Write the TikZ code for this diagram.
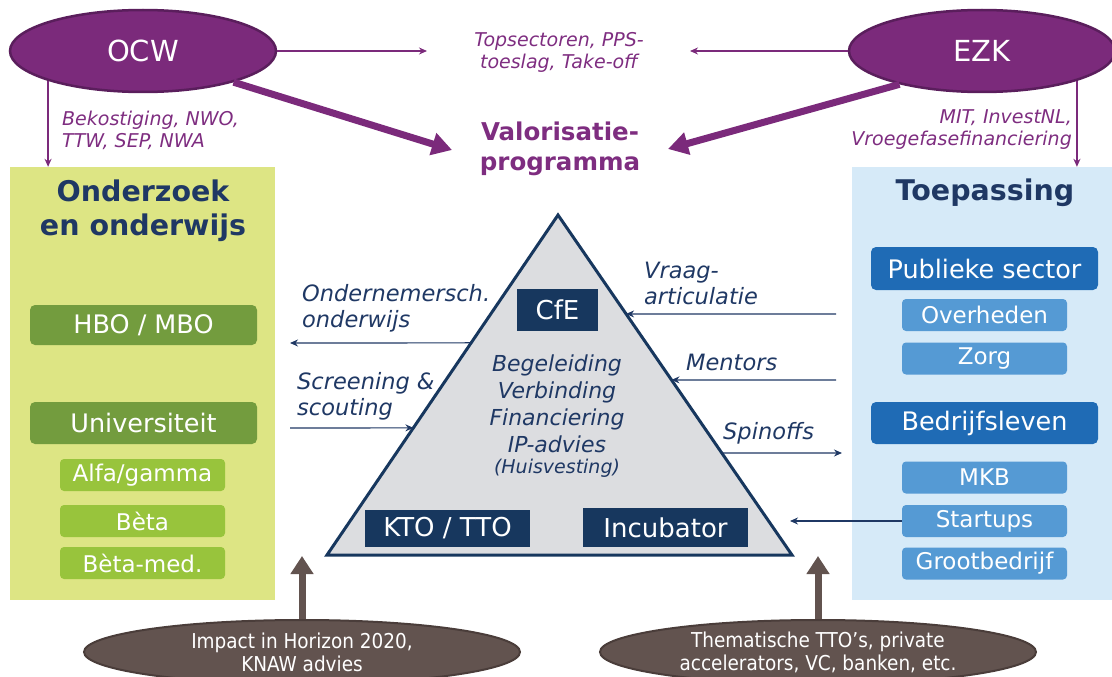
\documentclass[tikz,border=0pt]{standalone}
\usepackage{fontspec}
\setmainfont{DejaVu Sans}
\newfontfamily\condfont{DejaVu Sans Condensed}
\usetikzlibrary{arrows.meta,shapes.geometric,calc}
\definecolor{govfill}{HTML}{7B2A7B}
\definecolor{govdraw}{HTML}{5A1E5C}
\definecolor{purptext}{HTML}{7E2D80}
\definecolor{navy}{HTML}{17375E}
\definecolor{navytext}{HTML}{1F3864}
\definecolor{lpfill}{HTML}{DDE584}
\definecolor{dgreen}{HTML}{739C3E}
\definecolor{lgreen}{HTML}{98C43C}
\definecolor{rpfill}{HTML}{D6EAF8}
\definecolor{dblue}{HTML}{1F6BB5}
\definecolor{mblue}{HTML}{559AD4}
\definecolor{trifill}{HTML}{DCDDE0}
\definecolor{brownfill}{HTML}{62534F}
\definecolor{browndraw}{HTML}{4A3D3A}
\tikzset{
  govt/.style={ellipse, draw=govdraw, line width=2.5pt, fill=govfill, text=white,
    minimum width=266pt, minimum height=82pt, inner sep=0pt, font=\fontsize{29}{34}\selectfont},
  thinp/.style={draw=govfill, line width=1.3pt, -{Stealth[length=8pt,width=7pt]}},
  thickp/.style={draw=govfill, line width=7pt, -{Triangle[length=20pt,width=22pt]}},
  plabel/.style={text=purptext, font=\fontsize{19}{22}\selectfont\itshape, inner sep=0pt},
  panel/.style={draw=none, inner sep=0pt},
  ptitle/.style={text=navytext, font=\fontsize{28.5}{34}\selectfont\bfseries, align=center, inner sep=0pt},
  bigbox/.style={rounded corners=5pt, text=white, minimum width=227pt, inner sep=0pt,
    font=\fontsize{25.5}{28}\selectfont},
  smallbox/.style={rounded corners=4pt, text=white, minimum width=165pt, minimum height=32pt, inner sep=0pt,
    font=\fontsize{23}{26}\selectfont},
  navybox/.style={fill=navy, text=white, inner sep=0pt, font=\fontsize{26}{29}\selectfont},
  nlabel/.style={text=navytext, font=\fontsize{22.5}{26}\selectfont\itshape, inner sep=0pt, align=left},
  thinn/.style={draw=navytext, line width=1.2pt, -{Stealth[length=8pt,width=7pt]}},
  brarrow/.style={draw=brownfill, line width=7pt, -{Triangle[length=18pt,width=22pt]}},
  brell/.style={ellipse, draw=browndraw, line width=2pt, fill=brownfill, text=white,
    minimum width=436pt, minimum height=64pt, inner sep=0pt, align=center,
    font=\condfont\fontsize{20.5}{23}\selectfont},
}
\begin{document}
\begin{tikzpicture}[x=1pt,y=-1pt]
\useasboundingbox (0,0) rectangle (1112,677);
% panels
\node[panel, fill=lpfill, minimum width=265pt, minimum height=433pt] (lp) at (142.5,383.5) {};
\node[panel, fill=rpfill, minimum width=260pt, minimum height=433pt] (rp) at (982,383.5) {};
\node[ptitle] (lpt) at (143,211) {Onderzoek\\en onderwijs};
\node[ptitle] (rpt) at (985,193) {Toepassing};
% left boxes
\node[bigbox, fill=dgreen, minimum height=40pt] (hbo) at (143.5,325) {HBO / MBO};
\node[bigbox, fill=dgreen, minimum height=42pt] (uni) at (143.5,423) {Universiteit};
\node[smallbox, fill=lgreen] (alfa) at (142.5,475) {Alfa/gamma};
\node[smallbox, fill=lgreen] (beta) at (142.5,521) {Bèta};
\node[smallbox, fill=lgreen] (betamed) at (142.5,563) {Bèta-med.};
% right boxes
\node[bigbox, fill=dblue, minimum height=43pt] (pub) at (984.5,268.5) {Publieke sector};
\node[smallbox, fill=mblue] (overh) at (984.5,315) {Overheden};
\node[smallbox, fill=mblue] (zorg) at (984.5,358.5) {Zorg};
\node[bigbox, fill=dblue, minimum height=42pt] (bedr) at (984.5,423) {Bedrijfsleven};
\node[smallbox, fill=mblue] (mkb) at (984.5,477.5) {MKB};
\node[smallbox, fill=mblue] (startups) at (984.5,521) {Startups};
\node[smallbox, fill=mblue] (groot) at (984.5,563.5) {Grootbedrijf};
% government ellipses
\node[govt] (ocw) at (143,51) {OCW};
\node[govt] (ezk) at (982,51) {EZK};
\coordinate (topL) at (427,51);
\coordinate (topR) at (690,51);
\coordinate (valL) at (452,150);
\coordinate (valR) at (668,149);
\draw[thinp] (ocw.east) -- (topL);
\draw[thinp] (ezk.west) -- (topR);
\draw[thinp] (ocw.south west) -- (ocw.south west |- lp.north);
\draw[thinp] (ezk.south east) -- (ezk.south east |- rp.north);
\draw[thickp] (ocw.-19) -- (valL);
\draw[thickp] (ezk.-158) -- (valR);
\node[plabel, anchor=west, align=left] (bek) at (62,130) {Bekostiging, NWO,\\TTW, SEP, NWA};
\node[plabel, align=center] (tops) at (559,52) {Topsectoren, PPS-\\toeslag, Take-off};
\node[plabel, anchor=east, align=right] (mit) at (1072,130) {MIT, InvestNL,\\Vroegefasefinanciering};
\node[text=purptext, font=\fontsize{24.5}{30}\selectfont\bfseries, align=center, inner sep=0pt] (val) at (560,149) {Valorisatie-\\programma};
% triangle
\coordinate (apex) at (558,215);
\coordinate (bl) at (327,555);
\coordinate (br) at (792,555);
\draw[fill=trifill, draw=navy, line width=3pt, line join=miter] (apex) -- (bl) -- (br) -- cycle;
\node[navybox, minimum width=81pt, minimum height=42pt] (cfe) at (557.5,310) {CfE};
\node[navybox, minimum width=165pt, minimum height=37pt] (kto) at (447.5,528.5) {KTO / TTO};
\node[navybox, minimum width=165pt, minimum height=39pt] (incu) at (665.5,527.5) {Incubator};
\node[text=navytext, font=\fontsize{22}{27}\selectfont\itshape, align=center, inner sep=0pt] (mid) at (557,404)
  {Begeleiding\\Verbinding\\Financiering\\IP-advies};
\node[text=navytext, font=\fontsize{19}{20}\selectfont\itshape, inner sep=0pt] (huis) at (557,468) {(Huisvesting)};
% side labels and arrows
\node[nlabel, anchor=west] (ond) at (302,308) {Ondernemersch.\\onderwijs};
\node[nlabel, anchor=west] (scr) at (297,396) {Screening \&\\scouting};
\node[nlabel, anchor=west] (vraag) at (644,283) {Vraag-\\articulatie};
\node[nlabel, anchor=west] (ment) at (686,362) {Mentors};
\node[nlabel, anchor=west] (spin) at (723,433) {Spinoffs};
\coordinate (oL) at (290,343);
\coordinate (sL) at (290,428);
\coordinate (vR) at (836,314);
\coordinate (mR) at (836,380);
\coordinate (spR) at (842,453);
\coordinate (stL) at (790,519);
\draw[thinn] ($(apex)!0.376!(bl)$) -- (oL);
\draw[thinn] (sL) -- ($(apex)!0.626!(bl)$);
\draw[thinn] (vR) -- ($(apex)!0.291!(br)$);
\draw[thinn] (mR) -- ($(apex)!0.485!(br)$);
\draw[thinn] ($(apex)!0.700!(br)$) -- (spR);
\draw[thinn] (startups.west) -- (startups.west -| stL);
% bottom ellipses
\node[brell] (elL) at (302,652) {Impact in Horizon 2020,\\KNAW advies};
\node[brell] (elR) at (818,652) {Thematische TTO’s, private\\accelerators, VC, banken, etc.};
\coordinate (tipL) at (302,556);
\coordinate (tipR) at (818,556);
\draw[brarrow] (elL.north) -- (tipL);
\draw[brarrow] (elR.north) -- (tipR);
\end{tikzpicture}
\end{document}
